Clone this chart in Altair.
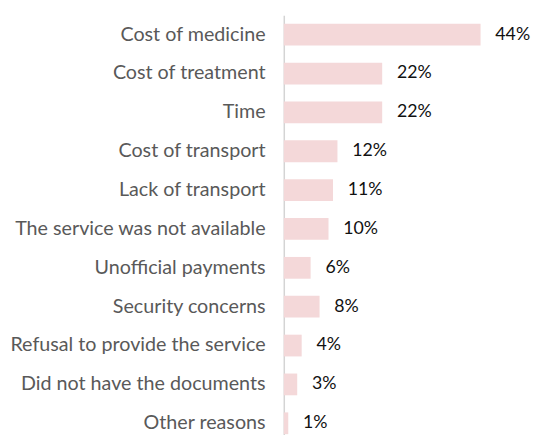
import altair as alt
import pandas as pd

categories = ["Cost of medicine", "Cost of treatment", "Time", "Cost of transport",
              "Lack of transport", "The service was not available", "Unofficial payments",
              "Security concerns", "Refusal to provide the service",
              "Did not have the documents", "Other reasons"]
values = [44, 22, 22, 12, 11, 10, 6, 8, 4, 3, 1]
labels = [f"{v}%" for v in values]

df = pd.DataFrame({"cat": categories, "val": values, "label": labels})

FONT = "Lato"
y = alt.Y("cat:N", sort=categories,
          scale=alt.Scale(paddingInner=0.44, paddingOuter=0.22),
          axis=alt.Axis(title=None, ticks=False, labelPadding=19, labelFontSize=20,
                        labelFont=FONT, labelColor="#595959", domainColor="#d4d4d4",
                        domainWidth=1.5, labelLimit=400))
x = alt.X("val:Q", scale=alt.Scale(domain=[0, 55.5], nice=False), axis=None)

bars = alt.Chart(df).mark_bar(color="#F4D8D9").encode(x=x, y=y)
text = alt.Chart(df).mark_text(align="left", dx=15, fontSize=18, font=FONT, color="#111111").encode(
    x=x, y=alt.Y("cat:N", sort=categories), text="label:N")

chart = (bars + text).properties(
    width=252, height=434,
    autosize=alt.AutoSizeParams(type="none"),
    padding={"left": 280, "top": 4, "right": 0, "bottom": 0},
).configure_view(stroke=None)

chart.save("out.html", embed_options={"renderer": "svg", "actions": False})
